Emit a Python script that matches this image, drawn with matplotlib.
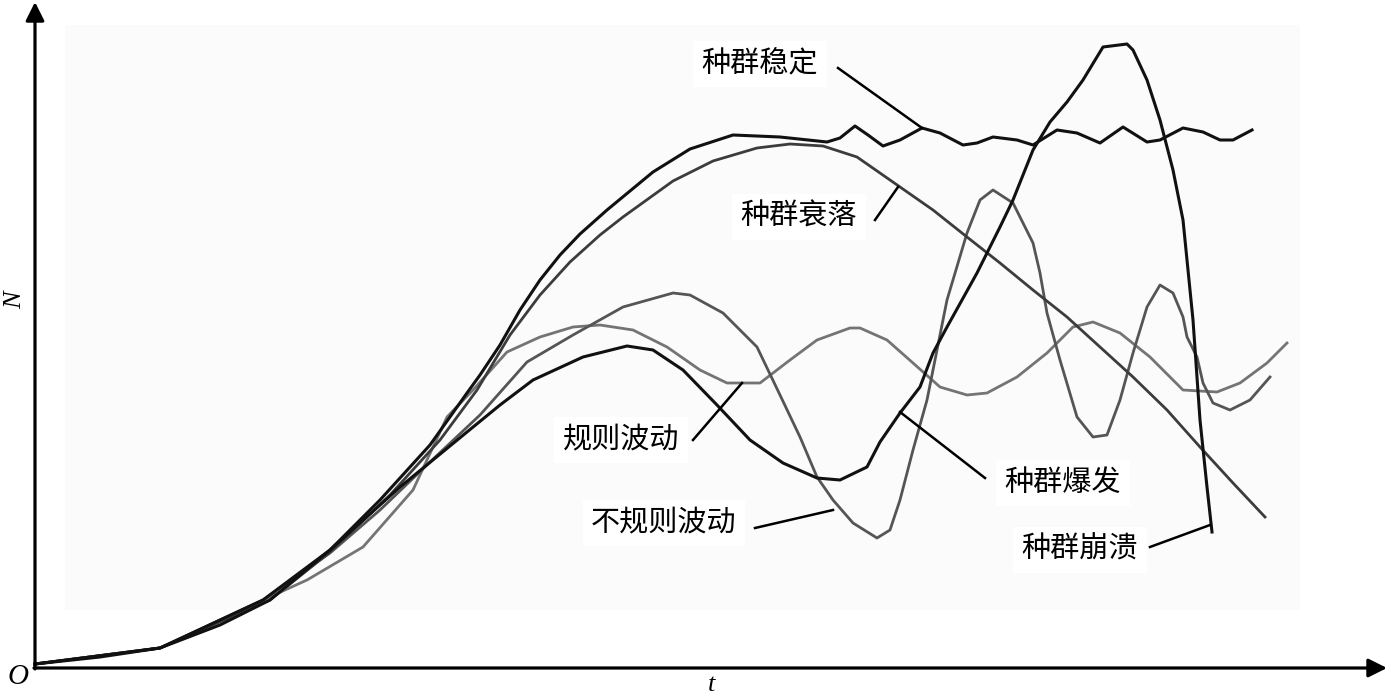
import matplotlib
matplotlib.use("Agg")
from matplotlib import pyplot as plt
from matplotlib.patches import Rectangle

# t, N (arbitrary units, origin at O)
stable_t = [0, 65, 125, 185, 235, 295, 345, 395, 432, 445, 465, 485, 505, 525, 545, 572, 618,
            655, 698, 745, 792, 805, 820, 833, 848, 865, 887, 905, 928, 942, 958, 982, 998,
            1022, 1042, 1065, 1088, 1112, 1125, 1148, 1168, 1185, 1198, 1217]
stable_n = [4, 11, 20, 43, 68, 118, 168, 223, 275, 293, 323, 358, 388, 413, 434, 458, 496,
            519, 533, 531, 526, 530, 542, 533, 522, 528, 540, 535, 523, 525, 531, 528, 523,
            538, 535, 525, 541, 526, 528, 540, 536, 528, 528, 538]

decline_t = [0, 125, 235, 295, 355, 405, 442, 475, 505, 535, 565, 588, 638, 678, 722, 755, 788,
             822, 855, 898, 932, 965, 998, 1032, 1065, 1098, 1132, 1165, 1198, 1230]
decline_n = [4, 20, 68, 116, 173, 228, 278, 333, 373, 406, 433, 451, 487, 507, 520, 524, 522,
             511, 488, 458, 431, 405, 378, 351, 321, 291, 258, 221, 185, 151]

burst_t = [0, 125, 228, 295, 365, 432, 465, 498, 548, 592, 618, 648, 682, 715, 748, 782, 805,
           832, 845, 865, 885, 898, 912, 942, 965, 978, 998, 1015, 1032, 1048, 1068, 1092,
           1098, 1112, 1125, 1138, 1148, 1158, 1165, 1172, 1177]
burst_n = [4, 20, 68, 118, 181, 236, 263, 288, 311, 322, 318, 298, 263, 228, 205, 190, 188,
           201, 226, 255, 281, 315, 341, 395, 441, 468, 518, 546, 566, 588, 621, 624,
           618, 588, 548, 498, 448, 348, 248, 181, 136]

regular_t = [0, 125, 228, 272, 328, 378, 412, 438, 472, 505, 538, 565, 598, 632, 665, 692, 725,
             755, 782, 815, 825, 852, 878, 905, 932, 952, 982, 1012, 1038, 1058, 1085, 1115,
             1148, 1182, 1205, 1232, 1252]
regular_n = [4, 20, 68, 88, 121, 178, 251, 278, 316, 331, 341, 343, 338, 321, 298, 285, 285,
             308, 328, 340, 340, 328, 305, 281, 273, 275, 291, 315, 341, 346, 335, 311,
             278, 276, 285, 305, 325]

irregular_t = [0, 125, 228, 295, 345, 395, 445, 492, 538, 588, 638, 655, 688, 722, 745, 765,
               782, 798, 818, 842, 855, 865, 878, 892, 902, 912, 932, 945, 958, 978, 998,
               1005, 1012, 1025, 1042, 1058, 1072, 1085, 1098, 1112, 1125, 1138, 1148, 1152,
               1162, 1168, 1178, 1195, 1215, 1235]
irregular_n = [4, 20, 68, 115, 158, 206, 253, 306, 333, 361, 375, 373, 355, 321, 273, 231,
               191, 168, 145, 130, 138, 168, 218, 268, 318, 368, 435, 468, 478, 465, 425,
               395, 355, 308, 251, 231, 233, 268, 315, 361, 383, 375, 351, 331,
               311, 285, 265, 258, 268, 291]

# label text, text position, leader line (start, end)
labels = ["种群稳定", "种群衰落", "规则波动", "不规则波动", "种群爆发", "种群崩溃"]
label_pos = [(725, 604), (764, 451), (586, 228), (629, 145), (1028, 185), (1045, 118)]
leader_from = [(803, 600), (840, 448), (658, 228), (720, 140), (950, 190), (1115, 121)]
leader_to = [(887, 540), (863, 481), (707, 285), (798, 158), (865, 256), (1175, 143)]

fig = plt.figure(figsize=(13.87, 6.96), dpi=100)
ax = fig.add_axes([0, 0, 1, 1])
ax.set_xlim(-35, 1352)
ax.set_ylim(-28, 668)
ax.axis('off')

ax.add_patch(Rectangle((30, 58), 1235, 585, facecolor='#fbfbfb', edgecolor='none', zorder=0))

ax.plot(regular_t, regular_n, color='#747474', lw=2.0, zorder=2)
ax.plot(irregular_t, irregular_n, color='#555555', lw=2.0, zorder=2)
ax.plot(decline_t, decline_n, color='#3c3c3c', lw=2.0, zorder=3)
ax.plot(burst_t, burst_n, color='#111111', lw=2.2, zorder=4)
ax.plot(stable_t, stable_n, color='#111111', lw=2.2, zorder=4)

# axes with arrows
arrow = dict(arrowstyle='-|>', mutation_scale=28, lw=2.3, color='black', shrinkA=0, shrinkB=0)
ax.annotate('', xy=(1352, 0), xytext=(-1, 0), arrowprops=arrow, zorder=5)
ax.annotate('', xy=(0, 666), xytext=(0, -1), arrowprops=arrow, zorder=5)

serif = ['Liberation Serif', 'DejaVu Serif']
ax.text(-17, -9, 'O', fontsize=21, style='italic', family=serif, ha='center', va='center')
ax.text(-20, 368, 'N', fontsize=19, style='italic', family=serif, rotation=90,
        ha='center', va='center')
ax.text(677, -17, 't', fontsize=19, style='italic', family=serif, ha='center', va='center')

for txt, pos, p0, p1 in zip(labels, label_pos, leader_from, leader_to):
    ax.text(pos[0], pos[1], txt, fontsize=21, family=['Noto Sans CJK SC', 'DejaVu Sans'],
            ha='center', va='center', zorder=6,
            bbox=dict(facecolor='white', edgecolor='none', pad=6))
    ax.plot([p0[0], p1[0]], [p0[1], p1[1]], color='black', lw=1.8, zorder=6)

fig.savefig('out.png', dpi=100)
